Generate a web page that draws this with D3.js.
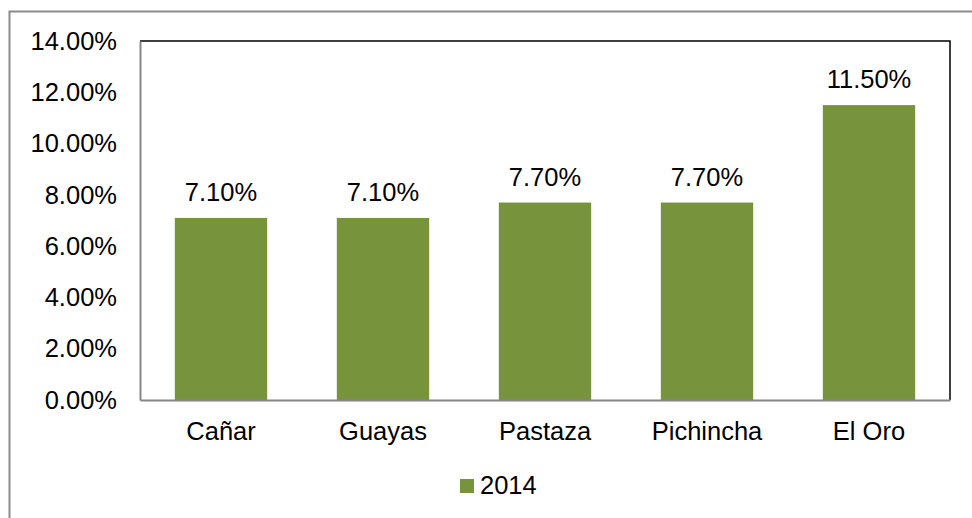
<!DOCTYPE html>
<html lang="es">
<head>
<meta charset="UTF-8">
<title>Chart</title>
<script src="https://cdn.jsdelivr.net/npm/d3@7/dist/d3.min.js"></script>
<style>
  body { margin: 0; background: #fff; }
  text { font-family: "Liberation Sans", Arial, sans-serif; fill: #000; }
</style>
</head>
<body>
<svg width="972" height="518"></svg>
<script>
var categories = ['Cañar', 'Guayas', 'Pastaza', 'Pichincha', 'El Oro'];
var values2014 = [7.1, 7.1, 7.7, 7.7, 11.5];
var yTicks = [0, 2, 4, 6, 8, 10, 12, 14];
var seriesName = '2014';

var svg = d3.select('svg');
var plotLeft = 140, plotRight = 950, plotTop = 41, plotBottom = 400;
var barColor = '#77933C';
var fontSize = 25.5;

// marco exterior
svg.append('rect')
    .attr('x', 9.5).attr('y', 11.5)
    .attr('width', 1000).attr('height', 1000)
    .attr('fill', 'none').attr('stroke', '#8c8c8c').attr('stroke-width', 2);

var x = d3.scaleBand().domain(categories).range([plotLeft, plotRight]).paddingInner(0.43).paddingOuter(0.215);
var y = d3.scaleLinear().domain([0, 14]).range([plotBottom, plotTop]);

// borde del área de trazado (arriba y derecha)
svg.append('path')
    .attr('d', 'M' + plotLeft + ',' + plotTop + 'H' + plotRight + 'V' + plotBottom)
    .attr('fill', 'none').attr('stroke', '#000').attr('stroke-width', 1.5);

svg.selectAll('rect.bar').data(values2014).enter().append('rect')
    .attr('class', 'bar')
    .attr('x', function (d, i) { return x(categories[i]); })
    .attr('y', function (d) { return y(d); })
    .attr('width', x.bandwidth())
    .attr('height', function (d) { return y(0) - y(d); })
    .attr('fill', barColor);

svg.selectAll('text.lbl').data(values2014).enter().append('text')
    .attr('class', 'lbl')
    .attr('x', function (d, i) { return x(categories[i]) + x.bandwidth() / 2; })
    .attr('y', function (d) { return y(d) - 17; })
    .attr('text-anchor', 'middle')
    .attr('font-size', fontSize)
    .text(function (d) { return d.toFixed(2) + '%'; });

// eje Y
var axisY = d3.axisLeft(y).tickValues(yTicks).tickSize(0).tickPadding(23)
    .tickFormat(function (d) { return d.toFixed(2) + '%'; });
var gy = svg.append('g').attr('transform', 'translate(' + plotLeft + ',0)').call(axisY);
gy.select('.domain').attr('stroke', '#868686').attr('stroke-width', 2);
gy.selectAll('text').attr('font-size', fontSize).attr('font-family', '"Liberation Sans", Arial, sans-serif');

// eje X
var axisX = d3.axisBottom(x).tickSize(0).tickPadding(22);
var gx = svg.append('g').attr('transform', 'translate(0,' + plotBottom + ')').call(axisX);
gx.select('.domain').attr('stroke', '#868686').attr('stroke-width', 2);
gx.selectAll('text').attr('font-size', fontSize).attr('font-family', '"Liberation Sans", Arial, sans-serif');

// leyenda
var lg = svg.append('g').attr('transform', 'translate(460,479)');
lg.append('rect').attr('width', 14).attr('height', 14).attr('fill', barColor);
lg.append('text').attr('x', 20).attr('y', 15).attr('font-size', fontSize).text(seriesName);
</script>
</body>
</html>
